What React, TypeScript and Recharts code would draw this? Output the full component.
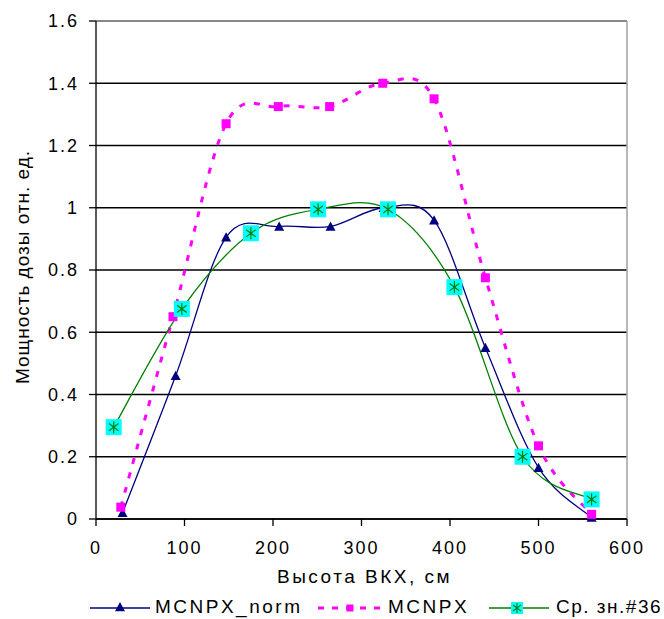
import { LineChart, Line, XAxis, YAxis, CartesianGrid, ReferenceLine } from "recharts";

const FONT = '"Liberation Sans", Arial, sans-serif';

// MCNPX_norm
const normHeights = [30, 90, 147, 207, 265, 325, 382, 440, 500, 560];
const normValues = [0.02, 0.46, 0.905, 0.94, 0.94, 1.0, 0.96, 0.55, 0.165, 0.005];
// MCNPX
const mcnpxHeights = [28, 87, 147, 206, 264, 324, 382, 440, 500, 560];
const mcnpxValues = [0.038, 0.65, 1.27, 1.325, 1.325, 1.4, 1.35, 0.775, 0.235, 0.015];
// Ср. зн.#36
const avgHeights = [20, 97, 175, 251, 330, 405, 482, 560];
const avgValues = [0.295, 0.675, 0.918, 0.995, 0.995, 0.745, 0.2, 0.063];

const xTicks = [0, 100, 200, 300, 400, 500, 600];
const yTicks = [0, 0.2, 0.4, 0.6, 0.8, 1, 1.2, 1.4, 1.6];

const toPoints = (xs: number[], ys: number[]) => xs.map((x, i) => ({ x, y: ys[i] }));

const normData = toPoints(normHeights, normValues);
const mcnpxData = toPoints(mcnpxHeights, mcnpxValues);
const avgData = toPoints(avgHeights, avgValues);

// Excel-like smoothing (Catmull-Rom as bezier segments)
const excelSmooth = (context: any) => {
  let pts: number[][] = [];
  return {
    areaStart() {},
    areaEnd() {},
    lineStart() {
      pts = [];
    },
    point(x: number, y: number) {
      pts.push([+x, +y]);
    },
    lineEnd() {
      if (!pts.length) return;
      context.moveTo(pts[0][0], pts[0][1]);
      for (let i = 0; i < pts.length - 1; i++) {
        const p0 = pts[i - 1] || pts[i];
        const p1 = pts[i];
        const p2 = pts[i + 1];
        const p3 = pts[i + 2] || p2;
        context.bezierCurveTo(
          p1[0] + (p2[0] - p0[0]) / 6,
          p1[1] + (p2[1] - p0[1]) / 6,
          p2[0] - (p3[0] - p1[0]) / 6,
          p2[1] - (p3[1] - p1[1]) / 6,
          p2[0],
          p2[1],
        );
      }
    },
  };
};

const triangle = (cx: number, cy: number, s: number) =>
  `M${cx},${cy - s}L${cx + s},${cy + s * 0.85}L${cx - s},${cy + s * 0.85}Z`;

const star = (cx: number, cy: number, s: number) =>
  `M${cx},${cy - s}V${cy + s}M${cx - s * 0.8},${cy - s * 0.6}L${cx + s * 0.8},${cy + s * 0.6}M${cx - s * 0.8},${cy + s * 0.6}L${cx + s * 0.8},${cy - s * 0.6}`;

const TriangleDot = (p: any) => (
  <path key={`t${p.index}`} d={triangle(p.cx, p.cy, 5)} fill="#000080" />
);

const SquareDot = (p: any) => (
  <rect key={`s${p.index}`} x={p.cx - 4.5} y={p.cy - 4.5} width={9} height={9} fill="#FF00FF" />
);

const StarDot = (p: any) => (
  <g key={`a${p.index}`}>
    <rect x={p.cx - 8} y={p.cy - 8} width={16} height={16} fill="#00FFFF" />
    <path d={star(p.cx, p.cy, 6)} stroke="#008000" strokeWidth={1.2} fill="none" />
  </g>
);

const XTitle = ({ viewBox }: any) => (
  <text
    x={viewBox.x + viewBox.width / 2 + 3}
    y={viewBox.y + viewBox.height + 24}
    textAnchor="middle"
    fontFamily={FONT}
    fontSize={19}
    fill="#000"
    style={{ letterSpacing: 2.5 }}
  >
    Высота ВКХ, см
  </text>
);

const YTitle = ({ viewBox }: any) => {
  const x = viewBox.x + 29;
  const y = 267;
  return (
    <text
      x={x}
      y={y}
      transform={`rotate(-90, ${x}, ${y})`}
      textAnchor="middle"
      fontFamily={FONT}
      fontSize={19}
      fill="#000"
      style={{ letterSpacing: 1 }}
    >
      Мощность дозы отн. ед.
    </text>
  );
};

const tickStyle = { fontFamily: FONT, fontSize: 18, fill: "#000", style: { letterSpacing: 2 } };

const legendText = {
  fontFamily: FONT,
  fontSize: 19,
  color: "#000",
  letterSpacing: 2.5,
  whiteSpace: "nowrap" as const,
};

const itemStyle = {
  position: "absolute" as const,
  top: 0,
  display: "flex",
  alignItems: "center",
  whiteSpace: "nowrap" as const,
};

function LegendRow() {
  return (
    <div style={{ position: "absolute", left: 0, top: 596, width: 664, height: 22 }}>
      <div style={{ ...itemStyle, left: 90 }}>
        <svg width={60} height={22}>
          <line x1={0} y1={12} x2={60} y2={12} stroke="#000080" strokeWidth={1.3} />
          <path d={triangle(30, 11, 5)} fill="#000080" />
        </svg>
        <span style={{ ...legendText, marginLeft: 5 }}>MCNPX_norm</span>
      </div>
      <div style={{ ...itemStyle, left: 318 }}>
        <svg width={64} height={22}>
          <line x1={0} y1={12} x2={64} y2={12} stroke="#FF00FF" strokeWidth={3} strokeDasharray="6 8" />
          <rect x={28.5} y={8.5} width={7} height={7} fill="#FF00FF" />
        </svg>
        <span style={{ ...legendText, marginLeft: 6 }}>MCNPX</span>
      </div>
      <div style={{ ...itemStyle, left: 489 }}>
        <svg width={60} height={22}>
          <line x1={0} y1={12} x2={60} y2={12} stroke="#008000" strokeWidth={1.3} />
          <rect x={22} y={6} width={12} height={12} fill="#00FFFF" />
          <path d={star(28, 12, 5)} stroke="#008000" strokeWidth={1.1} fill="none" />
        </svg>
        <span style={{ ...legendText, marginLeft: 7, letterSpacing: 1.5 }}>Ср. зн.#36</span>
      </div>
    </div>
  );
}

export default function App() {
  return (
    <div style={{ position: "absolute", left: 0, top: 0, width: 664, height: 619, background: "#fff", overflow: "hidden" }}>
      <LineChart width={664} height={619} margin={{ top: 21, right: 37, left: 0, bottom: 60 }}>
        <CartesianGrid vertical={false} stroke="#000" strokeWidth={1.3} />
        <ReferenceLine y={1.6} stroke="#a0a0a0" strokeWidth={1.5} />
        <ReferenceLine x={600} stroke="#a0a0a0" strokeWidth={1.5} />
        <XAxis
          type="number"
          dataKey="x"
          domain={[0, 600]}
          ticks={xTicks}
          height={40}
          tickSize={7}
          tickMargin={15}
          axisLine={{ stroke: "#000", strokeWidth: 1.3 }}
          tickLine={{ stroke: "#000", strokeWidth: 1.3 }}
          tick={tickStyle}
          label={{ content: XTitle }}
        />
        <YAxis
          type="number"
          domain={[0, 1.6]}
          ticks={yTicks}
          width={96}
          tickSize={7}
          tickMargin={10}
          axisLine={{ stroke: "#000", strokeWidth: 1.3 }}
          tickLine={{ stroke: "#000", strokeWidth: 1.3 }}
          tick={tickStyle}
          label={{ content: YTitle }}
        />
        <Line
          data={normData}
          dataKey="y"
          type={excelSmooth as any}
          stroke="#000080"
          strokeWidth={1.3}
          dot={TriangleDot}
          activeDot={false}
          isAnimationActive={false}
        />
        <Line
          data={mcnpxData}
          dataKey="y"
          type={excelSmooth as any}
          stroke="#FF00FF"
          strokeWidth={3}
          strokeDasharray="6 9"
          dot={SquareDot}
          activeDot={false}
          isAnimationActive={false}
        />
        <Line
          data={avgData}
          dataKey="y"
          type={excelSmooth as any}
          stroke="#008000"
          strokeWidth={1.3}
          dot={StarDot}
          activeDot={false}
          isAnimationActive={false}
        />
      </LineChart>
      <LegendRow />
    </div>
  );
}
